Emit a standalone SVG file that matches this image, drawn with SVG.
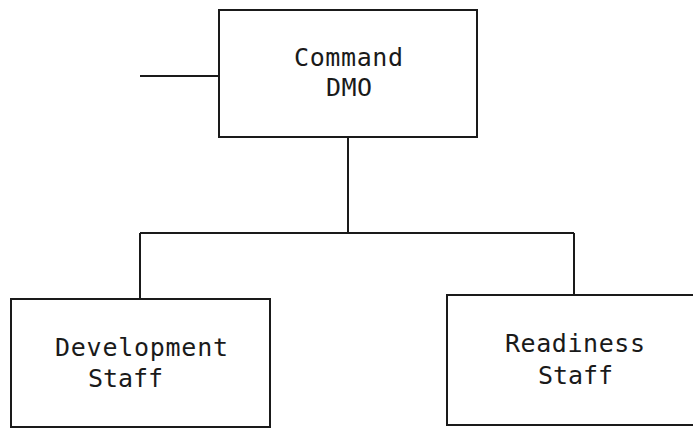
<svg xmlns="http://www.w3.org/2000/svg" width="693" height="429" viewBox="0 0 693 429">
<style>
.box{fill:none;stroke:#1a1a1a;stroke-width:2}
.ln{fill:none;stroke:#1a1a1a;stroke-width:2}
text{font-family:"DejaVu Sans Mono","Liberation Mono",monospace;font-size:25px;fill:#1a1a1a}
</style>
<rect width="693" height="429" fill="#ffffff"/>
<g id="connectors">
<path class="ln" d="M140 76 H219"/>
<path class="ln" d="M348 137 V233"/>
<path class="ln" d="M140 233 H574"/>
<path class="ln" d="M140 233 V299"/>
<path class="ln" d="M574 233 V295"/>
</g>
<g id="command-dmo">
<rect class="box" x="219" y="10" width="258" height="127"/>
<text x="294" y="66" textLength="109">Command</text>
<text x="326" y="96" textLength="46">DMO</text>
</g>
<g id="development-staff">
<rect class="box" x="11" y="299" width="259" height="128"/>
<text x="55" y="356" textLength="173">Development</text>
<text x="88" y="387" textLength="75">Staff</text>
</g>
<g id="readiness-staff">
<rect class="box" x="447" y="295" width="260" height="130"/>
<text x="505" y="352" textLength="140">Readiness</text>
<text x="538" y="384" textLength="75">Staff</text>
</g>
</svg>
